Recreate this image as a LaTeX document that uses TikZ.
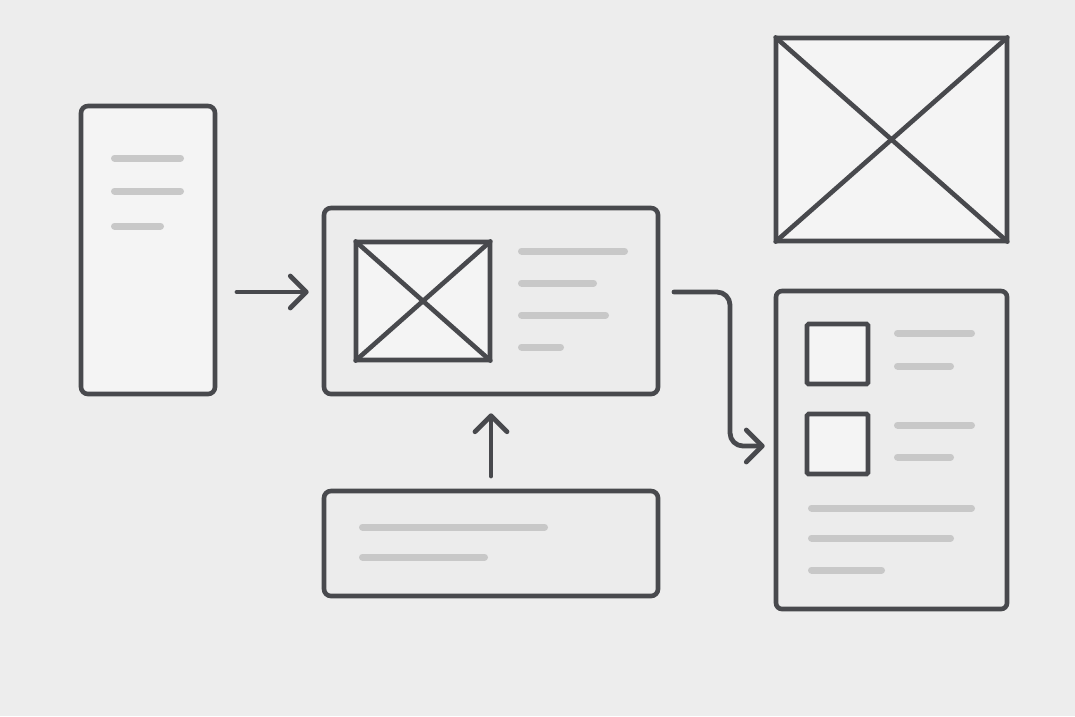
\documentclass[tikz,border=0pt]{standalone}
\usetikzlibrary{arrows.meta}
\definecolor{bg}{HTML}{EDEDED}
\definecolor{ink}{HTML}{48494D}
\definecolor{paper}{HTML}{F4F4F4}
\definecolor{card}{HTML}{ECECEC}
\definecolor{txt}{HTML}{C8C8C8}
\tikzset{
  frame/.style={draw=ink, line width=4.6pt, rounded corners=7pt, inner sep=0pt, fill=card},
  phonebox/.style={frame, fill=paper},
  imgbox/.style={draw=ink, line width=4.6pt, rounded corners=1.5pt, inner sep=0pt, fill=paper},
  cross/.style={draw=ink, line width=4.6pt, line cap=round, shorten <=2.5pt, shorten >=2.5pt},
  textline/.style={draw=txt, line width=7pt, line cap=round, shorten <=3.5pt, shorten >=3.5pt},
  conn/.style={draw=ink, line width=4.8pt, line cap=round, line join=round,
    -{Straight Barb[length=16pt, width=32pt, line cap=round, line join=round]}},
}
\begin{document}
\begin{tikzpicture}[x=1pt, y=-1pt]
\useasboundingbox (0,0) rectangle (1075,716);
\fill[bg] (0,0) rectangle (1075,716);

% left phone
\node[phonebox, minimum width=134pt, minimum height=288pt] (phone) at (148,250) {};
\draw[textline] (111,158) -- (184,158);
\draw[textline] (111,191) -- (184,191);
\draw[textline] (111,226) -- (164,226);

% middle card
\node[frame, minimum width=334pt, minimum height=186pt] (mid) at (491,301) {};
\node[imgbox, rounded corners=1pt, minimum width=134pt, minimum height=118pt] (midimg) at (423,301) {};
\draw[cross] (midimg.north west) -- (midimg.south east);
\draw[cross] (midimg.north east) -- (midimg.south west);
\draw[textline] (518,251) -- (628,251);
\draw[textline] (518,283) -- (597,283);
\draw[textline] (518,315) -- (609,315);
\draw[textline] (518,347) -- (564,347);

% bottom card
\node[frame, minimum width=334pt, minimum height=105pt] (bot) at (491,543.5) {};
\draw[textline] (359,527) -- (548,527);
\draw[textline] (359,557) -- (488,557);

% top right image
\node[imgbox, minimum width=231pt, minimum height=203pt] (hero) at (891.5,139.5) {};
\draw[cross] (hero.north west) -- (hero.south east);
\draw[cross] (hero.north east) -- (hero.south west);

% right card
\node[frame, rounded corners=6pt, minimum width=231pt, minimum height=318pt] (list) at (891.5,450) {};
\node[imgbox, minimum width=61pt, minimum height=60pt] (sq1) at (837.5,354) {};
\node[imgbox, minimum width=61pt, minimum height=60pt] (sq2) at (837.5,444) {};
\draw[textline] (894,333) -- (975,333);
\draw[textline] (894,366) -- (954,366);
\draw[textline] (894,425) -- (975,425);
\draw[textline] (894,457) -- (954,457);
\draw[textline] (808,508) -- (975,508);
\draw[textline] (808,538) -- (954,538);
\draw[textline] (808,570) -- (885,570);

% connectors
\coordinate (a1s) at (237,292);
\draw[conn, shorten >=13pt] (a1s) -- (mid.west |- a1s);

\coordinate (a2s) at (491,476);
\draw[conn, shorten >=17pt] (a2s) -- (mid.south);

\coordinate (a3s) at (674,292);
\coordinate (a3e) at (763,446);
\draw[conn, rounded corners=13pt, shorten >=9pt] (a3s) -- (730,292) -- (730,446) -- (list.west |- a3e);
\end{tikzpicture}
\end{document}
